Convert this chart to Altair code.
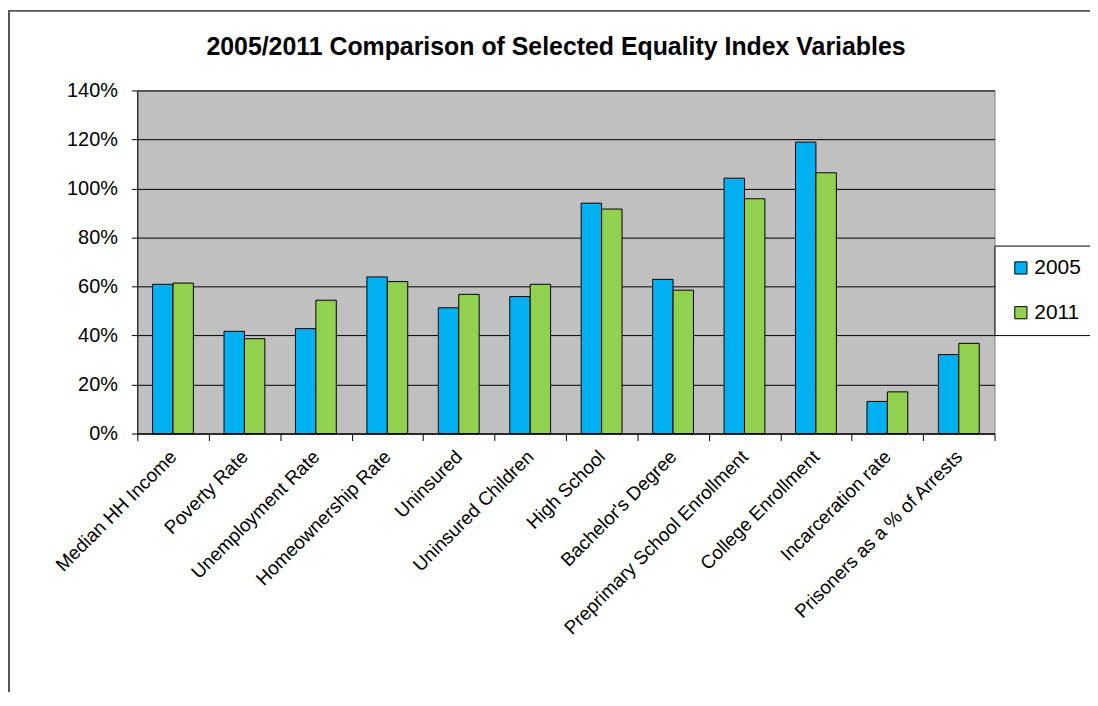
import altair as alt
import pandas as pd

title_text = "2005/2011 Comparison of Selected Equality Index Variables"
categories = [
    "Median HH Income", "Poverty Rate", "Unemployment Rate", "Homeownership Rate",
    "Uninsured", "Uninsured Children", "High School", "Bachelor's Degree",
    "Preprimary School Enrollment", "College Enrollment", "Incarceration rate",
    "Prisoners as a % of Arrests",
]
years = ["2005", "2011"]
v2005 = [0.609, 0.417, 0.428, 0.639, 0.513, 0.559, 0.940, 0.629, 1.042, 1.189, 0.131, 0.322]
v2011 = [0.614, 0.387, 0.544, 0.620, 0.568, 0.609, 0.916, 0.585, 0.958, 1.064, 0.170, 0.368]
y_ticks = [0, 0.2, 0.4, 0.6, 0.8, 1.0, 1.2, 1.4]

rows = []
for c, a, b in zip(categories, v2005, v2011):
    rows.append({"category": c, "year": years[0], "value": a})
    rows.append({"category": c, "year": years[1], "value": b})
df = pd.DataFrame(rows)

FONT = "Liberation Sans"

bars = alt.Chart(df).mark_bar(stroke="black", strokeWidth=1).encode(
    x=alt.X(
        "category:N", sort=categories,
        scale=alt.Scale(paddingInner=0, paddingOuter=0),
        axis=alt.Axis(
            title=None, labelAngle=-45, tickBand="extent", grid=False,
            domainColor="black", tickColor="black", tickSize=7,
            labelColor="black", labelFont=FONT, labelFontSize=19,
            labelPadding=13, labelAlign="right", labelBaseline="middle",
            labelLimit=0,
        ),
    ),
    xOffset=alt.XOffset("year:N", sort=years,
                        scale=alt.Scale(paddingOuter=0.75, paddingInner=0)),
    y=alt.Y(
        "value:Q",
        scale=alt.Scale(domain=[0, 1.4], nice=False),
        axis=alt.Axis(
            title=None, format="%", values=y_ticks, grid=True,
            gridColor="black", gridWidth=1, gridOpacity=1,
            domainColor="black", tickColor="black", tickSize=6,
            labelColor="black", labelFont=FONT, labelFontSize=20,
            labelPadding=14,
        ),
    ),
    color=alt.Color(
        "year:N",
        scale=alt.Scale(domain=years, range=["#00B0F0", "#92D050"]),
        legend=alt.Legend(
            title=None, orient="none", legendX=862, legendY=156,
            symbolType="square", symbolSize=150, symbolStrokeColor="black",
            symbolStrokeWidth=1, symbolOpacity=1, symbolOffset=4,
            labelFont=FONT, labelFontSize=21, labelColor="black",
            labelOffset=3, rowPadding=23, padding=12,
            strokeColor="black", fillColor="white",
        ),
    ),
)

one = pd.DataFrame({"a": [0]})

title = alt.Chart(one).mark_text(
    text=title_text, font=FONT, fontSize=25, fontWeight="bold",
    color="black", align="center", baseline="middle",
).encode(x=alt.value(421), y=alt.value(-44))

border = alt.Chart(one).mark_rule(color="#555555", strokeWidth=2).encode(
    x=alt.value(-129), y=alt.value(-81), y2=alt.value(700)
)
border_top = alt.Chart(one).mark_rule(color="#555555", strokeWidth=2).encode(
    x=alt.value(-130), x2=alt.value(960), y=alt.value(-80)
)

chart = alt.layer(bars, border, border_top, title).properties(
    width=862, height=345,
    autosize=alt.AutoSizeParams(type="none"),
    padding={"left": 130, "top": 81, "right": 96, "bottom": 258},
).configure_view(
    fill="#C0C0C0", stroke="#808080", strokeWidth=1
)

chart.save("out.html", embed_options={"renderer": "svg", "actions": False})
